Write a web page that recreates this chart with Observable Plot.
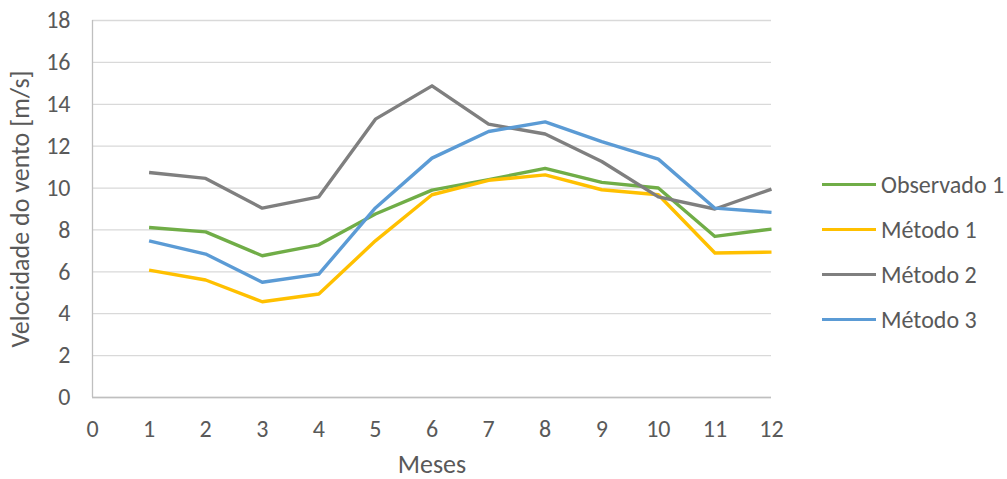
<!DOCTYPE html>
<html>
<head>
<meta charset="utf-8">
<script src="https://cdn.jsdelivr.net/npm/d3@7"></script>
<script src="https://cdn.jsdelivr.net/npm/@observablehq/plot@0.6"></script>
<style>
  html, body { margin: 0; padding: 0; background: #fff; }
  #wrap { position: relative; width: 1007px; height: 479px; font-family: Carlito, "Liberation Sans Narrow", "Open Sans", sans-serif; }
  #legend { position: absolute; left: 822px; top: 162px; }
  .item { display: flex; align-items: center; height: 45px; font-size: 24px; color: #595959; white-space: nowrap; }
  .sw { width: 54px; height: 3.5px; margin-right: 5px; }
</style>
</head>
<body>
<div id="wrap"></div>
<script>
const months = [1, 2, 3, 4, 5, 6, 7, 8, 9, 10, 11, 12];
const seriesNames = ["Observado 1", "Método 1", "Método 2", "Método 3"];
const observado1 = [8.12, 7.91, 6.77, 7.29, 8.76, 9.90, 10.40, 10.94, 10.27, 10.00, 7.69, 8.04];
const metodo1 = [6.08, 5.61, 4.57, 4.94, 7.48, 9.68, 10.37, 10.63, 9.92, 9.68, 6.90, 6.94];
const metodo2 = [10.74, 10.46, 9.04, 9.58, 13.29, 14.88, 13.05, 12.58, 11.27, 9.58, 9.00, 9.95];
const metodo3 = [7.48, 6.85, 5.50, 5.89, 9.05, 11.43, 12.70, 13.16, 12.22, 11.38, 9.04, 8.84];
const colors = ["#70AD47", "#FFC000", "#7F7F7F", "#5B9BD5"];
const xTicks = [0, 1, 2, 3, 4, 5, 6, 7, 8, 9, 10, 11, 12];
const yTicks = [0, 2, 4, 6, 8, 10, 12, 14, 16, 18];
const xLabel = "Meses";
const yLabel = "Velocidade do vento [m/s]";

const allValues = [observado1, metodo1, metodo2, metodo3];
const rows = [];
seriesNames.forEach((s, i) => months.forEach((m, j) => rows.push({series: s, mes: m, v: allValues[i][j]})));

const font = 'Carlito, "Liberation Sans Narrow", "Open Sans", sans-serif';
const chart = Plot.plot({
  width: 1007,
  height: 479,
  marginLeft: 92,
  marginRight: 236,
  marginTop: 20,
  marginBottom: 82,
  style: {fontFamily: font, fontSize: "24px", color: "#595959", background: "#fff"},
  x: {domain: [0, 12]},
  y: {domain: [0, 18]},
  color: {domain: seriesNames, range: colors},
  marks: [
    Plot.gridY(yTicks, {stroke: "#D9D9D9", strokeOpacity: 1, strokeWidth: 1.3}),
    Plot.ruleX([0], {stroke: "#BFBFBF", strokeWidth: 1.3}),
    Plot.ruleY([0], {stroke: "#BFBFBF", strokeWidth: 1.3}),
    Plot.axisY(yTicks, {tickSize: 0, tickPadding: 22, fontSize: 24, label: null, fill: "#595959"}),
    Plot.axisX(xTicks, {tickSize: 0, tickPadding: 22, fontSize: 24, label: null, fill: "#595959"}),
    Plot.text([yLabel], {frameAnchor: "left", dx: -72, rotate: -90, textAnchor: "middle", fontSize: 26, fill: "#595959", lineAnchor: "middle"}),
    Plot.text([xLabel], {frameAnchor: "bottom", dy: 67, textAnchor: "middle", fontSize: 26, fill: "#595959", lineAnchor: "middle"}),
    Plot.line(rows, {x: "mes", y: "v", z: "series", stroke: "series", strokeWidth: 3.4, strokeLinejoin: "round", strokeLinecap: "butt"})
  ]
});
document.getElementById("wrap").appendChild(chart);

const legend = document.createElement("div");
legend.id = "legend";
seriesNames.forEach((s, i) => {
  const it = document.createElement("div");
  it.className = "item";
  const sw = document.createElement("div");
  sw.className = "sw";
  sw.style.background = colors[i];
  const t = document.createElement("span");
  t.textContent = s;
  it.appendChild(sw);
  it.appendChild(t);
  legend.appendChild(it);
});
document.getElementById("wrap").appendChild(legend);
</script>
</body>
</html>
